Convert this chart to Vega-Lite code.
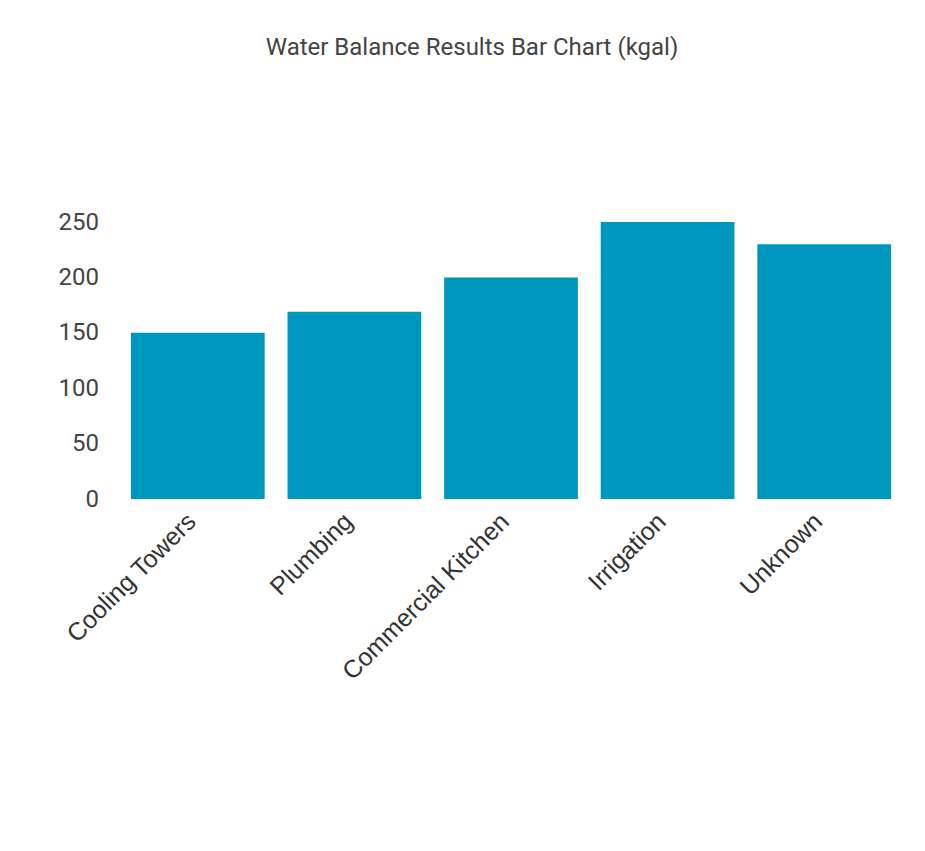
{
  "$schema": "https://vega.github.io/schema/vega-lite/v6.json",
  "autosize": "none",
  "width": 783,
  "height": 277,
  "padding": {"left": 119.5, "top": 222, "right": 22.5, "bottom": 352},
  "background": "white",
  "title": {
    "text": "Water Balance Results Bar Chart (kgal)",
    "anchor": "middle",
    "frame": "group",
    "dx": -39,
    "offset": 150,
    "font": "Roboto",
    "fontSize": 24,
    "fontWeight": "normal",
    "color": "#444444"
  },
  "data": {
    "values": [
      {"category": "Cooling Towers", "kgal": 150},
      {"category": "Plumbing", "kgal": 169},
      {"category": "Commercial Kitchen", "kgal": 200},
      {"category": "Irrigation", "kgal": 250},
      {"category": "Unknown", "kgal": 230}
    ]
  },
  "mark": {"type": "bar", "color": "#0097BE"},
  "encoding": {
    "x": {
      "field": "category",
      "type": "nominal",
      "sort": null,
      "scale": {"paddingInner": 0.146, "paddingOuter": 0.073},
      "axis": {
        "title": null,
        "domain": false,
        "ticks": false,
        "labelAngle": -45,
        "labelAlign": "right",
        "labelBaseline": "middle",
        "labelPadding": 18,
        "labelOffset": -6,
        "labelLimit": 500,
        "labelFont": "Liberation Sans",
        "labelFontSize": 25,
        "labelColor": "#333333"
      }
    },
    "y": {
      "field": "kgal",
      "type": "quantitative",
      "scale": {"domain": [0, 250], "nice": false},
      "axis": {
        "title": null,
        "domain": false,
        "ticks": false,
        "grid": false,
        "values": [0, 50, 100, 150, 200, 250],
        "labelPadding": 21,
        "labelFont": "Roboto",
        "labelFontSize": 24,
        "labelColor": "#444444"
      }
    }
  },
  "config": {"view": {"stroke": null}}
}
